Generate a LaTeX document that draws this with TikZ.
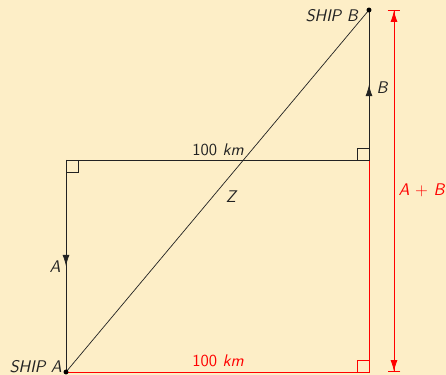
\documentclass[tikz,border=0pt]{standalone}
\usetikzlibrary{positioning, calc, arrows.meta, decorations.markings}
\definecolor{Paper}{HTML}{FDEEC7}
\definecolor{Ink}{HTML}{222222}
\definecolor{Measure}{HTML}{FF0000}
\tikzset{
    leg/.style={draw=Ink, line width=0.5pt},
    redleg/.style={draw=Measure, line width=0.5pt},
    midarrow/.style={postaction={decorate}, decoration={markings,
        mark=at position 0.5 with {\arrow[Ink]{Latex[length=8pt,width=5pt]}}}},
    lbl/.style={inner sep=0pt, font=\sffamily\large, text=Ink},
    redlbl/.style={lbl, text=Measure},
    rightmark/.style={draw=Ink, line width=0.4pt},
    shipdot/.style={circle, fill=black, inner sep=0pt, minimum size=3.5pt},
}

\begin{document}
\begin{tikzpicture}[x=0.25mm, y=-0.25mm]
    % paper
    \fill[Paper] (0,0) rectangle (446,375);
    \useasboundingbox (0,0) rectangle (446,375);

    % corners of the route
    \coordinate (shipA) at (66,372);
    \coordinate (shipB) at (369,10);
    \coordinate (turnA) at (66,160);
    \coordinate (turnB) at (369,160);
    \coordinate (foot) at (369,372);

    % route legs
    \draw[leg, midarrow] (turnA) -- (shipA);
    \draw[leg] (turnA) -- (turnB);
    \draw[leg, midarrow] (turnB) -- (shipB);
    \draw[leg] (shipA) -- (shipB);

    % red completion
    \draw[redleg] (shipA) -- (foot) -- (turnB);

    % right angles
    \draw[rightmark] (turnA) rectangle ++(12,12);
    \draw[rightmark] (turnB) rectangle ++(-12,-12);
    \draw[rightmark, draw=Measure] (foot) rectangle ++(-12,-12);

    % total height
    \coordinate (dimtop) at (394,10);
    \coordinate (dimbot) at (394,372);
    \draw[redleg, {Bar[width=9pt]Latex[length=8pt,width=5pt]}-{Latex[length=8pt,width=5pt]Bar[width=9pt]}]
        (dimtop) -- (dimbot);

    % ships
    \node[shipdot] (dotA) at (shipA) {};
    \node[shipdot] (dotB) at (shipB) {};
    \node[lbl, anchor=east] (nameA) at (62,367) {\itshape SHIP A};
    \node[lbl, anchor=east] (nameB) at (358,16) {\itshape SHIP B};

    % labels
    \node[lbl] (legA) at (55,267) {\itshape A};
    \node[lbl] (legB) at (382,88) {\itshape B};
    \node[lbl] (dist) at (218,150) {100 \textit{km}};
    \node[redlbl] (distred) at (218,361) {100 \textit{km}};
    \node[lbl] (legZ) at (231,197) {\itshape Z};
    \node[redlbl] (sum) at (422,190) {\textit{A} + \textit{B}};
\end{tikzpicture}
\end{document}
